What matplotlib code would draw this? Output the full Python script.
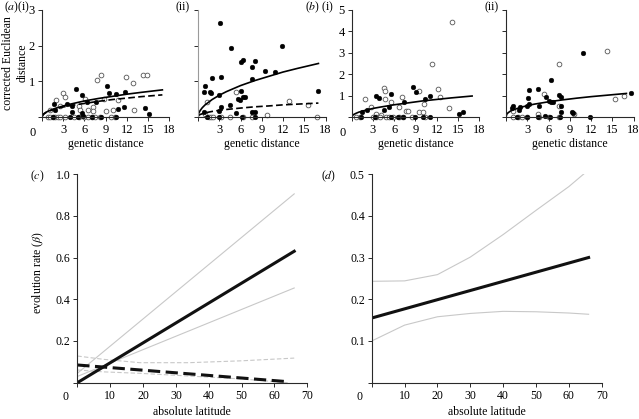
import numpy as np
import matplotlib
matplotlib.use('Agg')
import matplotlib.pyplot as plt

# Fonts / style
#------------------------------------------------------------------------------
plt.rcParams['font.family'] = ['Liberation Serif', 'DejaVu Serif']
plt.rcParams['mathtext.fontset'] = 'stix'
plt.rcParams['font.size'] = 8.5
#------------------------------------------------------------------------------


# Scatter data (genetic distance vs corrected distance)
#------------------------------------------------------------------------------
a1_filled_x = [1.7, 1.9, 3.6, 4.2, 4.8, 4.2, 5.6, 5.65, 5.8, 6.4, 7.6, 9.2, 9.4,
               10.5, 10.7, 11.6, 11.7, 14.5, 15.1, 1.6, 3.9, 5.1, 7.1, 8.3, 10.4]
a1_filled_y = [0.36, 0.2, 0.36, 0.3, 0.78, 0.14, 0.62, 0.11, 0.02, 0.42, 0.41,
               0.87, 0.67, 0.64, 0.22, 0.28, 0.69, 0.26, 0.09, 0, 0, 0, 0, 0, 0]
a1_open_x = [2.0, 3.0, 3.2, 1.1, 2.5, 5.2, 6.1, 6.5, 5.3, 7.2, 7.8, 8.3, 7.2,
             9.1, 10.0, 10.8, 11.9, 12.8, 14.3, 14.8, 13.0, 8.8,
             0.8, 1.2, 1.5, 1.8, 2.2, 2.6, 3.3, 4.5, 5.2, 6.0, 6.5, 7.0, 7.5,
             8.2, 9.8, 10.3]
a1_open_y = [0.48, 0.68, 0.57, 0.2, 0.3, 0.31, 0.51, 0.2, 0.2, 0.28, 1.04, 1.18,
             0.16, 0.16, 0.2, 0.48, 1.13, 0.94, 1.19, 1.19, 0.2, 0.5,
             0, 0, 0, 0, 0, 0, 0, 0, 0, 0, 0, 0, 0, 0, 0, 0]

a2_filled_x = [3.1, 4.67, 6.08, 6.3, 7.6, 8.0, 9.4, 10.9, 11.9, 7.6,
               3.25, 1.93, 0.94, 0.9, 1.7, 1.9, 6.08, 2.97, 3.3, 3.0,
               4.5, 5.6, 5.9, 6.3, 6.65, 5.4, 0.9, 7.6, 8.0, 17.0,
               1.2, 3.0, 6.2, 8.0]
a2_filled_y = [2.63, 1.94, 1.55, 1.61, 1.41, 1.56, 1.29, 1.26, 2.0, 1.06,
               1.13, 1.09, 0.88, 0.71, 0.69, 0.68, 0.73, 0.62, 0.28, 0.18,
               0.34, 0.5, 0.48, 0.55, 0.56, 0.11, 0.13, 0.13, 0.13, 0.74,
               0, 0, 0, 0]
a2_open_x = [5.4, 1.2, 12.9, 15.5, 9.7, 7.7, 1.0,
             1.5, 1.84, 2.17, 3.25, 4.5, 6.3, 7.6, 16.8]
a2_open_y = [0.71, 0.41, 0.45, 0.34, 0.06, 0.11, 0.09,
             0, 0, 0, 0, 0, 0, 0, 0]

b1_filled_x = [3.37, 3.84, 5.56, 8.67, 9.05, 11.05, 7.42, 5.28, 4.63, 2.2, 1.5,
               10.35, 15.1, 15.65, 1.37, 3.23, 5.56, 6.5, 7.3, 8.95, 10.1, 11.1]
b1_filled_y = [0.98, 0.88, 1.08, 1.38, 1.15, 1.0, 0.72, 0.46, 0.31, 0.34, 0.22,
               0.83, 0.14, 0.22, 0, 0, 0, 0, 0, 0, 0, 0]
b1_open_x = [14.2, 11.4, 12.2, 4.53, 4.77, 9.5, 4.7, 1.84, 5.56, 7.1,
             12.4, 2.77, 6.72, 7.65, 7.88, 9.5, 10.1, 10.2, 13.8, 3.37, 4.07,
             0.67, 1.14, 3.0, 3.5, 3.95, 4.86, 5.33, 5.9, 6.7, 7.2, 8.5, 10.35]
b1_open_y = [4.46, 2.46, 1.32, 1.37, 1.23, 1.23, 0.85, 0.86, 0.72, 0.95,
             0.92, 0.46, 0.46, 0.29, 0.29, 0.25, 0.25, 0.62, 0.42, 0.14, 0.11,
             0, 0, 0, 0, 0, 0, 0, 0, 0, 0, 0, 0]

b2_filled_x = [10.9, 6.3, 3.3, 4.55, 3.15, 0.94, 1.97, 1.83, 3.0, 3.3,
               4.7, 6.1, 6.3, 5.6, 7.5, 7.8, 6.57, 7.8, 7.8, 5.5,
               9.25, 9.5, 17.6, 0.85, 1.5, 2.9, 4.55, 6.2, 7.6, 11.8]
b2_filled_y = [2.98, 1.72, 1.26, 1.29, 0.88, 0.5, 0.46, 0.34, 0.52, 0.62,
               0.49, 0.77, 0.72, 0.92, 1.03, 0.95, 0.72, 0.52, 0.22, 0.06,
               0.22, 0.18, 1.11, 0.42, 0, 0, 0, 0, 0, 0]
b2_open_x = [14.2, 7.5, 5.4, 7.5, 15.4, 16.7, 9.6, 4.55, 1.03,
             1.03, 1.74, 2.2, 2.9, 4.7, 6.1, 7.5]
b2_open_y = [3.08, 2.49, 1.06, 0.49, 0.83, 1.0, 0.15, 0.14, 0.26,
             0, 0, 0, 0, 0, 0, 0]

curve_x = [0, 0.1, 0.3, 0.6, 1, 2, 3, 4, 6, 8, 10, 12, 14, 17]
a1_solid = [0, 0.05, 0.095, 0.135, 0.176, 0.25, 0.31, 0.36, 0.45, 0.52, 0.58, 0.64, 0.69, 0.76]
a1_dashed = [0, 0.045, 0.09, 0.13, 0.165, 0.23, 0.28, 0.32, 0.38, 0.44, 0.49, 0.53, 0.57, 0.62]
a2_solid = [0, 0.104, 0.18, 0.26, 0.34, 0.49, 0.61, 0.71, 0.88, 1.02, 1.14, 1.26, 1.36, 1.5]
a2_dashed = [0, 0.043, 0.07, 0.091, 0.116, 0.156, 0.186, 0.21, 0.25, 0.285, 0.31, 0.34, 0.36, 0.39]
b1_solid = [0, 0.068, 0.12, 0.17, 0.226, 0.32, 0.4, 0.46, 0.57, 0.66, 0.75, 0.82, 0.89, 0.98]
b2_solid = [0, 0.127, 0.2, 0.27, 0.333, 0.445, 0.53, 0.6, 0.71, 0.8, 0.88, 0.95, 1.01, 1.1]
#------------------------------------------------------------------------------


# Evolution rate vs latitude (panels c and d)
#------------------------------------------------------------------------------
lat_ends = [0, 66]
c_solid = [0.0, 0.63]
c_solid_hi = [0.045, 0.905]
c_solid_lo = [0.03, 0.454]
c_dash_x = [0, 64]
c_dashed = [0.085, 0.005]
c_grid = [0, 8, 19, 34, 50, 66]
c_dashed_hi = [0.128, 0.112, 0.096, 0.096, 0.105, 0.118]
c_grid_lo = [0, 8, 19, 34, 50, 64]
c_dashed_lo = [0.061, 0.052, 0.045, 0.032, 0.018, 0.0]

d_solid = [0.155, 0.30]
d_grid = [0, 10, 20, 30, 40, 50, 60, 66]
d_hi = [0.243, 0.244, 0.259, 0.301, 0.355, 0.413, 0.47, 0.51]
d_lo = [0.1, 0.138, 0.158, 0.166, 0.171, 0.17, 0.167, 0.164]
#------------------------------------------------------------------------------


fig = plt.figure(figsize=(6.39, 4.19), dpi=100)

axcol = '#2a2a2a'


def style(ax, xmax, ymax, xt, yt, ylabels, lsize):
    for s in ['top', 'right']:
        ax.spines[s].set_visible(False)
    for s in ['left', 'bottom']:
        ax.spines[s].set_color(axcol)
        ax.spines[s].set_linewidth(0.8)
    ax.set_xlim(0, xmax)
    ax.set_ylim(0, ymax)
    ax.set_xticks(xt, [''] + [str(v) for v in xt[1:]])
    if ylabels:
        ax.set_yticks(yt, [''] + ylabels)
    else:
        ax.set_yticks(yt, [''] * len(yt))
    ax.tick_params(direction='out', length=3, width=0.7, color=axcol, pad=2,
                   labelsize=lsize)


def scatter_panel(rect, fx, fy, ox, oy, ymax, ylabels):
    ax = fig.add_axes(rect)
    ax.plot(ox, oy, 'o', ms=3.4, mfc='white', mec='#555555', mew=0.6, clip_on=False)
    ax.plot(fx, fy, 'o', ms=3.4, mfc='black', mec='black', mew=0.3, clip_on=False)
    style(ax, 18, ymax, [0, 3, 6, 9, 12, 15, 18], list(range(ymax + 1)), ylabels, 9)
    ax.text(0.5, -0.252, 'genetic distance', transform=ax.transAxes,
            ha='center', va='center')
    return ax


top_b, top_h, top_w = 0.7208, 0.2554, 0.1995

ax1 = scatter_panel([0.0657, top_b, top_w, top_h], a1_filled_x, a1_filled_y,
                    a1_open_x, a1_open_y, 3, ['1', '2', '3'])
ax1.plot(curve_x, a1_solid, '-', color='black', lw=1.2)
ax1.plot(curve_x, a1_dashed, '--', color='black', lw=1.2, dashes=(4, 2))
ax1.text(-0.21, 0.505, 'corrected Euclidean\ndistance', transform=ax1.transAxes,
         rotation=90, ha='center', va='center', linespacing=1.25)

ax2 = scatter_panel([0.3099, top_b, top_w, top_h], a2_filled_x, a2_filled_y,
                    a2_open_x, a2_open_y, 3, None)
ax2.plot(curve_x, a2_solid, '-', color='black', lw=1.2)
ax2.plot(curve_x, a2_dashed, '--', color='black', lw=1.2, dashes=(4, 2))
ax2.spines['left'].set_color('#9a9a9a')

ax3 = scatter_panel([0.5504, top_b, top_w, top_h], b1_filled_x, b1_filled_y,
                    b1_open_x, b1_open_y, 5, ['1', '2', '3', '4', '5'])
ax3.plot(curve_x, b1_solid, '-', color='black', lw=1.2)

ax4 = scatter_panel([0.7919, top_b, top_w, top_h], b2_filled_x, b2_filled_y,
                    b2_open_x, b2_open_y, 5, None)
ax4.plot(curve_x, b2_solid, '-', color='black', lw=1.2)

# origin labels
for ax in [ax1, ax3]:
    ax.annotate('0', xy=(0, 0), xycoords='axes fraction', xytext=(-9, -16),
                textcoords='offset pixels', ha='center', va='center', fontsize=9)


# Panel c
#------------------------------------------------------------------------------
axc = fig.add_axes([0.121, 0.0866, 0.36, 0.498])
axc.plot(lat_ends, c_solid_hi, '-', color='#c8c8c8', lw=0.8)
axc.plot(lat_ends, c_solid_lo, '-', color='#c8c8c8', lw=0.8)
axc.plot(c_grid, c_dashed_hi, '--', color='#c8c8c8', lw=0.8, dashes=(4, 2))
axc.plot(c_grid_lo, c_dashed_lo, '--', color='#c8c8c8', lw=0.8, dashes=(4, 2))
axc.plot(lat_ends, c_solid, '-', color='#111111', lw=2.2)
axc.plot(c_dash_x, c_dashed, '--', color='#111111', lw=2.2, dashes=(4, 1.8))
style(axc, 70, 1.0, [0, 10, 20, 30, 40, 50, 60, 70], [0, 0.2, 0.4, 0.6, 0.8, 1.0],
      ['0.2', '0.4', '0.6', '0.8', '1.0'], 8.5)
axc.text(0.5, -0.14, 'absolute latitude', transform=axc.transAxes,
         ha='center', va='center')
axc.text(-0.171, 0.53, r'evolution rate ($\beta$)', transform=axc.transAxes,
         rotation=90, ha='center', va='center')
#------------------------------------------------------------------------------


# Panel d
#------------------------------------------------------------------------------
axd = fig.add_axes([0.5817, 0.0866, 0.36, 0.498])
axd.plot(d_grid, d_hi, '-', color='#c8c8c8', lw=0.8)
axd.plot(d_grid, d_lo, '-', color='#c8c8c8', lw=0.8)
axd.plot(lat_ends, d_solid, '-', color='#111111', lw=2.2)
style(axd, 70, 0.5, [0, 10, 20, 30, 40, 50, 60, 70], [0, 0.1, 0.2, 0.3, 0.4, 0.5],
      ['0.1', '0.2', '0.3', '0.4', '0.5'], 8.5)
axd.text(0.5, -0.14, 'absolute latitude', transform=axd.transAxes,
         ha='center', va='center')
#------------------------------------------------------------------------------

for ax in [axc, axd]:
    ax.annotate('0', xy=(0, 0), xycoords='axes fraction', xytext=(-12, -14),
                textcoords='offset pixels', ha='center', va='center')


# Panel letters
#------------------------------------------------------------------------------
W, H = 639.0, 419.0
fig.text(17 / W, 1 - 7 / H, r'($a$)(i)', ha='center', va='center')
fig.text(183 / W, 1 - 7 / H, '(ii)', ha='center', va='center')
fig.text(320 / W, 1 - 7 / H, r'($b$) (i)', ha='center', va='center')
fig.text(492 / W, 1 - 7 / H, '(ii)', ha='center', va='center')
fig.text(37 / W, 1 - 176 / H, r'($c$)', ha='center', va='center')
fig.text(329 / W, 1 - 176 / H, r'($d$)', ha='center', va='center')

fig.savefig('out.png', dpi=100)
